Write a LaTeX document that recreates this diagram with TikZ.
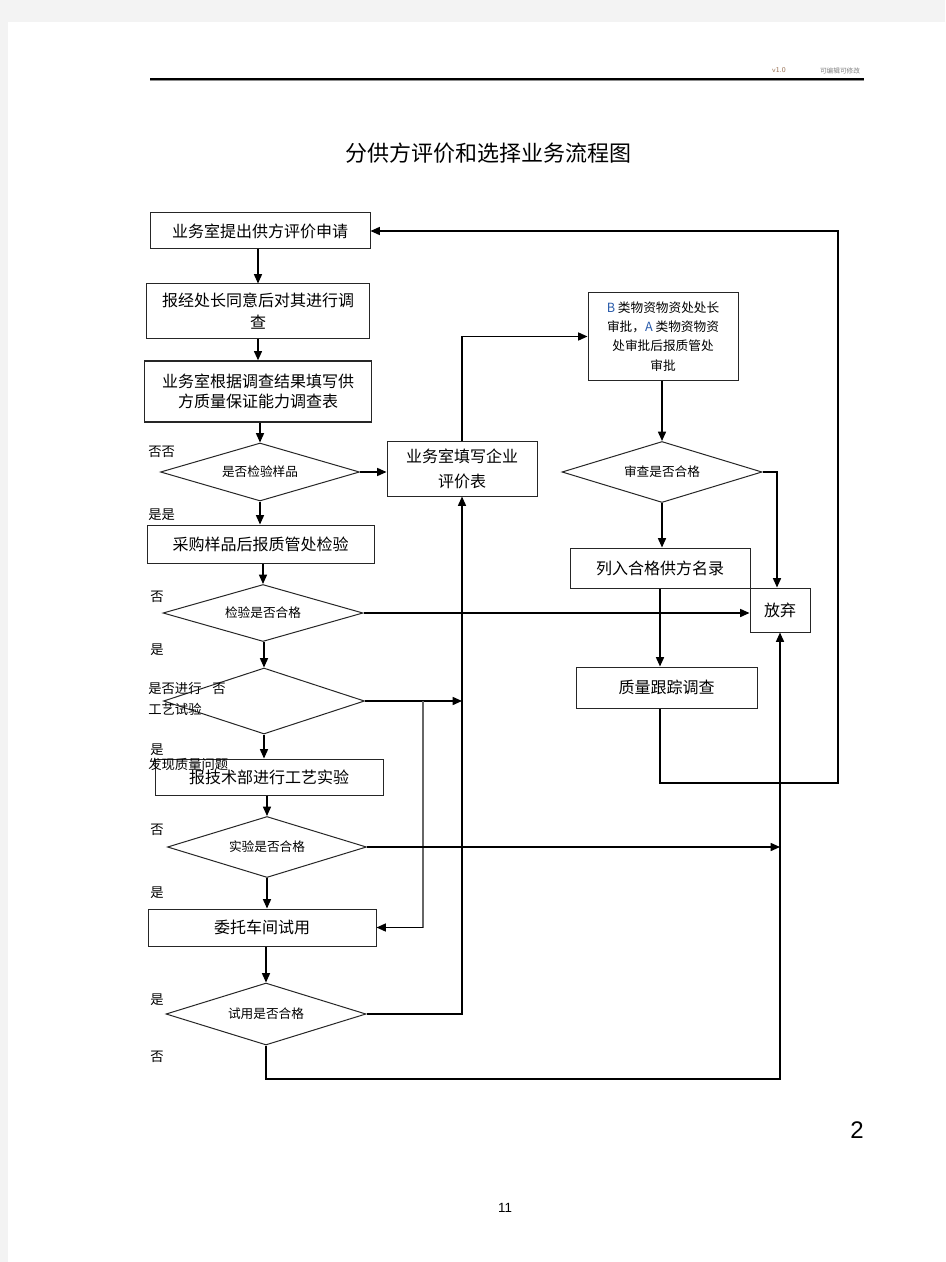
\documentclass[tikz,border=0pt]{standalone}
\usepackage{fontspec}
\setmainfont{Liberation Sans}
\newfontfamily\cjk{Noto Sans CJK SC}
\usetikzlibrary{shapes.geometric,arrows.meta}
\definecolor{pagegray}{RGB}{243,243,243}
\definecolor{bblue}{RGB}{40,90,170}
\definecolor{verbrown}{RGB}{150,110,80}
\begin{document}
\begin{tikzpicture}[x=0.75pt,y=-0.75pt,
  box/.style={draw=black!85, line width=0.75pt, inner sep=0pt, align=center,
    font=\cjk\fontsize{12}{16.5}\selectfont},
  dia/.style={draw=black!85, shape=diamond, aspect=3.4, inner sep=0pt, line width=0.75pt,
    font=\cjk\fontsize{9.5}{11}\selectfont},
  lab/.style={inner sep=0pt, anchor=west, font=\cjk\fontsize{10}{12}\selectfont},
  arr/.style={line width=1.1pt, -{Triangle[length=7pt,width=6pt]}},
  ln/.style={line width=1.1pt}]
% page
\fill[pagegray] (0,0) rectangle (945,1262);
\fill[white] (8,22) rectangle (945,1262);
\useasboundingbox (0,0) rectangle (945,1262);
% header
\draw[line width=1.2pt] (150,79) -- (864,79);
\draw[line width=0.6pt, black!45] (150,80.5) -- (864,80.5);
\node[inner sep=0pt, text=verbrown, font=\sffamily\fontsize{5.5}{6}\selectfont] (ver) at (779,70) {v1.0};
\node[inner sep=0pt, text=gray, font=\cjk\fontsize{5}{6}\selectfont] (edit) at (840,71) {可编辑可修改};
% title
\node[inner sep=0pt, font=\cjk\fontsize{16.5}{20}\selectfont] (title) at (488,153) {分供方评价和选择业务流程图};

% left column
\node[box, minimum width={220*0.75pt}, minimum height={36*0.75pt}] (n1) at (260,231) {业务室提出供方评价申请};
\node[box, minimum width={223*0.75pt}, minimum height={54*0.75pt}] (n2) at (258,311) {报经处长同意后对其进行调\\查};
\node[box, minimum width={227*0.75pt}, minimum height={61*0.75pt}, line width=1pt, font=\cjk\fontsize{12}{15}\selectfont] (n3) at (258,391.5) {业务室根据调查结果填写供\\方质量保证能力调查表};
\node[dia, minimum width={199*0.75pt}, minimum height={58*0.75pt}] (d1) at (260,472) {是否检验样品};
\node[box, minimum width={150*0.75pt}, minimum height={55*0.75pt}, font=\cjk\fontsize{12}{18.75}\selectfont] (n5) at (462,468.5) {业务室填写企业\\评价表};
\node[box, minimum width={227*0.75pt}, minimum height={38*0.75pt}] (n6) at (260.5,544) {采购样品后报质管处检验};
\node[dia, minimum width={200*0.75pt}, minimum height={57*0.75pt}] (d2) at (263,613) {检验是否合格};
\node[dia, minimum width={201*0.75pt}, minimum height={66*0.75pt}] (d3) at (264,701) {};
\node[box, minimum width={228*0.75pt}, minimum height={36*0.75pt}] (n9) at (269,777) {报技术部进行工艺实验};
\node[dia, minimum width={199*0.75pt}, minimum height={61*0.75pt}] (d4) at (267,847) {实验是否合格};
\node[box, minimum width={228*0.75pt}, minimum height={37*0.75pt}] (n11) at (262,927.5) {委托车间试用};
\node[dia, minimum width={200*0.75pt}, minimum height={62*0.75pt}] (d5) at (266,1014) {试用是否合格};

% right column
\node[box, minimum width={150*0.75pt}, minimum height={87*0.75pt}, font=\cjk\fontsize{9.5}{14.5}\selectfont] (nB) at (663,336.5)
  {\textcolor{bblue}{B} 类物资物资处处长\\审批，\textcolor{bblue}{A} 类物资物资\\处审批后报质管处\\审批};
\node[dia, minimum width={200*0.75pt}, minimum height={61*0.75pt}] (d6) at (662,472) {审查是否合格};
\node[box, minimum width={180*0.75pt}, minimum height={40*0.75pt}] (n16) at (660,568) {列入合格供方名录};
\node[box, minimum width={60*0.75pt}, minimum height={44*0.75pt}] (n17) at (780,610) {放弃};
\node[box, minimum width={181*0.75pt}, minimum height={41*0.75pt}] (n18) at (666.5,687.5) {质量跟踪调查};

% labels
\node[lab] (l1) at (148,452) {否否};
\node[lab] (l2) at (148,515) {是是};
\node[lab] (l3) at (150,597) {否};
\node[lab] (l4) at (150,650) {是};
\node[lab] (l5) at (148,688) {是否进行\hspace{0.8em}否};
\node[lab] (l6) at (148,709) {工艺试验};
\node[lab] (l7) at (150,750) {是};
\node[lab] (l8) at (148,764) {发现质量问题};
\node[lab] (l9) at (150,830) {否};
\node[lab] (l10) at (150,893) {是};
\node[lab] (l11) at (150,1000) {是};
\node[lab] (l12) at (150,1057) {否};

% helper coordinates
\coordinate (j1) at (423,701);
\coordinate (b1) at (266,1079);
\coordinate (r1) at (838,783);

% connectors
\draw[arr] (n2.north |- n1.south) -- (n2.north);
\draw[arr] (n3.north |- n2.south) -- (n3.north);
\draw[arr] (d1.north |- n3.south) -- (d1.north);
\draw[arr] (d1.east) -- (d1.east -| n5.west);
\draw[arr] (d1.south) -- (d1.south |- n6.north);
\draw[arr] (d2.north |- n6.south) -- (d2.north);
\draw[arr] (d2.east) -- (d2.east -| n17.west);
\draw[arr] (d3.north |- d2.south) -- (d3.north);
\draw[arr] (d3.south) -- (d3.south |- n9.north);
\draw[arr] (d3.east) -- (d3.east -| n5.south);
\draw[line width=0.9pt, black!60] (j1) -- (j1 |- n11.east);
\draw[arr] (j1 |- n11.east) -- (n11.east);
\draw[arr] (d4.north |- n9.south) -- (d4.north);
\draw[arr] (d4.east) -- (d4.east -| n17.south);
\draw[arr] (d4.south) -- (d4.south |- n11.north);
\draw[arr] (d5.north |- n11.south) -- (d5.north);
\draw[arr] (d5.east) -| (n5.south);
\draw[arr] (d5.south) -- (d5.south |- b1) -| (n17.south);
\draw[arr] (n5.north) |- (nB.west);
\draw[arr] (d6.north |- nB.south) -- (d6.north);
\draw[arr] (d6.east) -| ([xshift=-3*0.75pt]n17.north);
\draw[arr] (d6.south) -- (d6.south |- n16.north);
\draw[arr] (n16.south) -- (n16.south |- n18.north);
\draw[arr] (n16.south |- n18.south) |- (r1) |- (n1.east);

% page numbers
\node[inner sep=0pt, font=\fontsize{18}{20}\selectfont] (pg) at (857,1130) {2};
\node[inner sep=0pt, font=\fontsize{10}{12}\selectfont] (pg2) at (505,1208) {11};
\end{tikzpicture}
\end{document}
